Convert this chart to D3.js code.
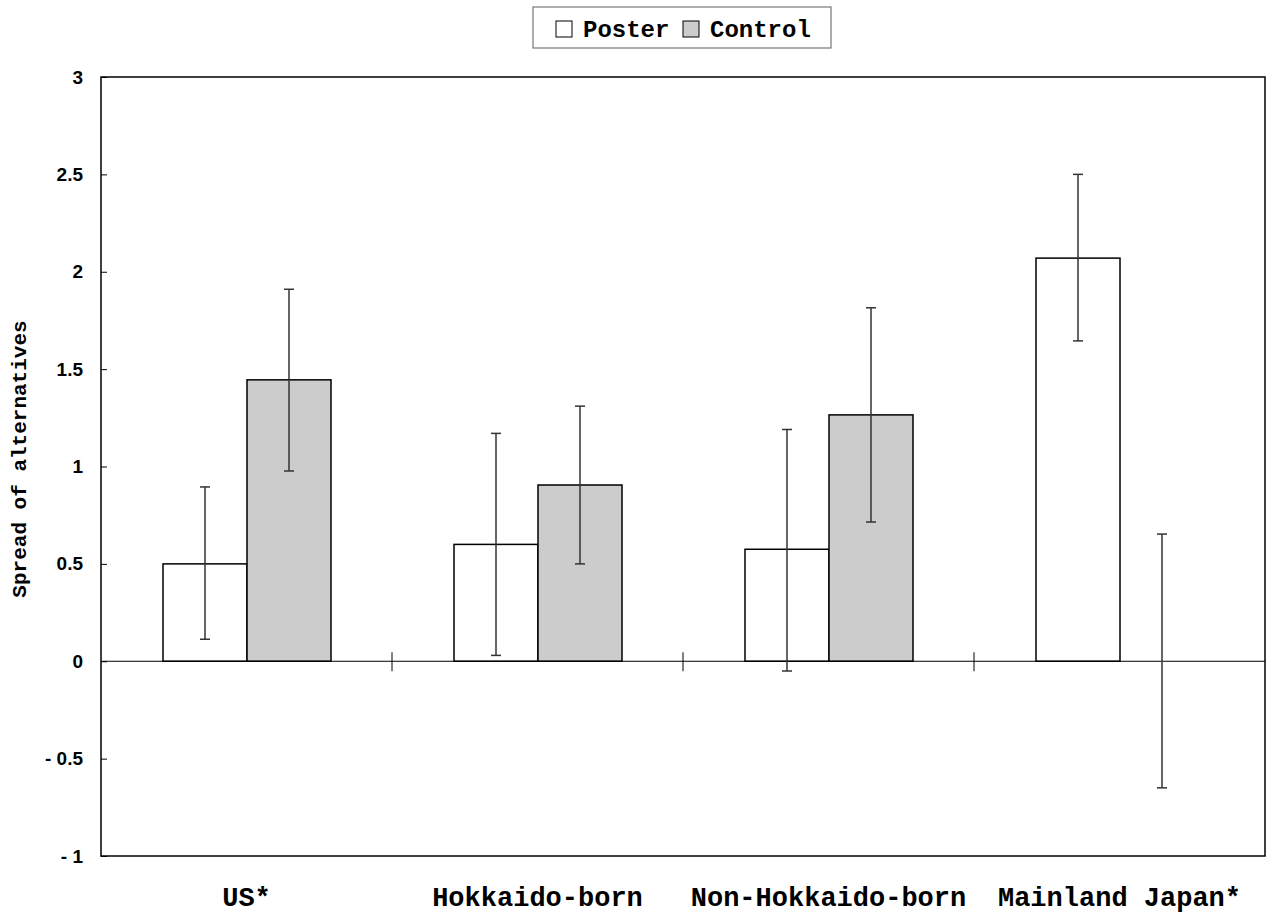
<!DOCTYPE html>
<html>
<head>
<meta charset="utf-8">
<script src="https://cdn.jsdelivr.net/npm/d3@7"></script>
<style>
  body { margin: 0; background: #fff; }
  svg { display: block; }
</style>
</head>
<body>
<div id="chart"></div>
<script>
// values
var categories = ["US*", "Hokkaido-born", "Non-Hokkaido-born", "Mainland Japan*"];
var seriesNames = ["Poster", "Control"];
var seriesColors = ["#ffffff", "#cccccc"];
var posterMean = [0.50, 0.60, 0.575, 2.07];
var posterLow = [0.113, 0.03, -0.05, 1.645];
var posterHigh = [0.895, 1.17, 1.19, 2.50];
var controlMean = [1.445, 0.905, 1.265, 0];
var controlLow = [0.977, 0.50, 0.715, -0.65];
var controlHigh = [1.91, 1.31, 1.815, 0.653];
var yTicks = [-1, -0.5, 0, 0.5, 1, 1.5, 2, 2.5, 3];

var width = 1267, height = 913;
var margin = {left: 101, right: 2, top: 77, bottom: 57};

var svg = d3.select("#chart").append("svg")
    .attr("width", width).attr("height", height);

var x = d3.scaleBand().domain(categories)
    .range([margin.left, width - margin.right]).padding(0);
var xs = d3.scaleBand().domain(seriesNames)
    .range([62, 62 + 168]).padding(0);
var y = d3.scaleLinear().domain([-1, 3])
    .range([height - margin.bottom, margin.top]);

// build rows per bar
var rows = [];
categories.forEach(function (c, i) {
    rows.push({cat: c, s: "Poster", v: posterMean[i], lo: posterLow[i], hi: posterHigh[i], color: seriesColors[0]});
    rows.push({cat: c, s: "Control", v: controlMean[i], lo: controlLow[i], hi: controlHigh[i], color: seriesColors[1]});
});

// plot frame
svg.append("rect")
    .attr("x", margin.left).attr("y", margin.top)
    .attr("width", width - margin.right - margin.left)
    .attr("height", height - margin.bottom - margin.top)
    .attr("fill", "none").attr("stroke", "#000").attr("stroke-width", 1.5);

// y axis ticks (inside) + labels
var yAxis = d3.axisLeft(y).tickValues(yTicks).tickSize(-6).tickPadding(18)
    .tickFormat(function (d) { return d < 0 ? "- " + Math.abs(d) : String(d); });
var ga = svg.append("g").attr("transform", "translate(" + margin.left + ",0)").call(yAxis);
ga.select(".domain").remove();
ga.selectAll(".tick line").attr("stroke", "#000").attr("stroke-width", 1);
ga.selectAll(".tick text")
    .attr("font-family", "'Liberation Sans', Arial, sans-serif")
    .attr("font-weight", "bold").attr("font-size", 19).attr("fill", "#000");

// bars (non-zero only)
svg.append("g").selectAll("rect").data(rows.filter(function (d) { return d.v !== 0; }))
    .enter().append("rect")
    .attr("x", function (d) { return x(d.cat) + xs(d.s); })
    .attr("width", xs.bandwidth())
    .attr("y", function (d) { return y(Math.max(0, d.v)); })
    .attr("height", function (d) { return Math.abs(y(d.v) - y(0)); })
    .attr("fill", function (d) { return d.color; })
    .attr("stroke", "#000").attr("stroke-width", 1.5);

// zero line
svg.append("line")
    .attr("x1", margin.left).attr("x2", width - margin.right)
    .attr("y1", y(0)).attr("y2", y(0))
    .attr("stroke", "#000").attr("stroke-width", 1);

// category separator ticks on zero line
svg.append("g").selectAll("line").data(categories.slice(1))
    .enter().append("line")
    .attr("x1", function (d) { return x(d); }).attr("x2", function (d) { return x(d); })
    .attr("y1", y(0) - 9).attr("y2", y(0) + 10)
    .attr("stroke", "#000").attr("stroke-width", 1);

// error bars
var eb = svg.append("g").selectAll("g").data(rows).enter().append("g")
    .attr("stroke", "#333").attr("stroke-width", 1.5);
function cx(d) { return x(d.cat) + xs(d.s) + xs.bandwidth() / 2; }
eb.append("line")
    .attr("x1", cx).attr("x2", cx)
    .attr("y1", function (d) { return y(d.lo); })
    .attr("y2", function (d) { return y(d.hi); });
eb.append("line")
    .attr("x1", function (d) { return cx(d) - 5; }).attr("x2", function (d) { return cx(d) + 5; })
    .attr("y1", function (d) { return y(d.hi); }).attr("y2", function (d) { return y(d.hi); });
eb.append("line")
    .attr("x1", function (d) { return cx(d) - 5; }).attr("x2", function (d) { return cx(d) + 5; })
    .attr("y1", function (d) { return y(d.lo); }).attr("y2", function (d) { return y(d.lo); });

// category labels
svg.append("g").selectAll("text").data(categories).enter().append("text")
    .attr("x", function (d) { return x(d) + x.bandwidth() / 2; })
    .attr("y", 906)
    .attr("text-anchor", "middle")
    .attr("font-family", "'Liberation Mono', 'Courier New', monospace")
    .attr("font-weight", "bold").attr("font-size", 27)
    .text(function (d) { return d; });

// y axis title
svg.append("text")
    .attr("transform", "translate(26," + 459 + ") rotate(-90)")
    .attr("text-anchor", "middle")
    .attr("font-family", "'Liberation Mono', 'Courier New', monospace")
    .attr("font-weight", "bold").attr("font-size", 21)
    .text("Spread of alternatives");

// legend
var lg = svg.append("g");
lg.append("rect").attr("x", 533).attr("y", 7).attr("width", 298).attr("height", 41)
    .attr("fill", "#fff").attr("stroke", "#777").attr("stroke-width", 1.2);
var items = lg.selectAll("g").data(seriesNames).enter().append("g")
    .attr("transform", function (d, i) { return "translate(" + (556 + i * 127) + ",0)"; });
items.append("rect").attr("x", 0).attr("y", 21).attr("width", 16).attr("height", 16)
    .attr("fill", function (d, i) { return seriesColors[i]; })
    .attr("stroke", "#000").attr("stroke-width", 1);
items.append("text").attr("x", 27).attr("y", 37)
    .attr("font-family", "'Liberation Mono', 'Courier New', monospace")
    .attr("font-weight", "bold").attr("font-size", 24)
    .text(function (d) { return d; });
</script>
</body>
</html>
